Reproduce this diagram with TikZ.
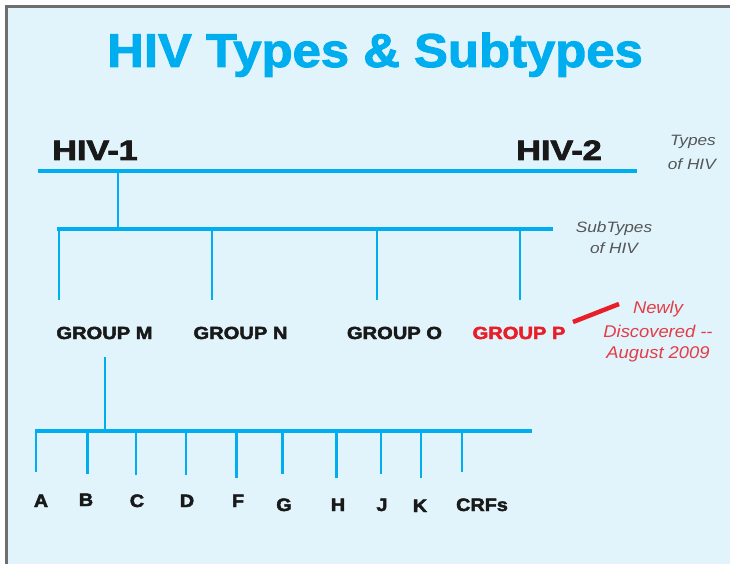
\documentclass[tikz,border=0pt]{standalone}
\usepackage{fontspec}
\usepackage{graphicx}
\setmainfont{Liberation Sans}
\newfontfamily\heavy{Liberation Sans}[FakeBold=2.5]
\newfontfamily\titlefont{Liberation Sans}[FakeBold=2]
\definecolor{hivblue}{RGB}{0,174,239}
\definecolor{bgblue}{RGB}{225,244,252}
\definecolor{framegray}{RGB}{110,110,110}
\definecolor{hivred}{RGB}{232,30,40}
\definecolor{notered}{RGB}{228,60,70}
\definecolor{notegray}{RGB}{85,85,85}
\definecolor{labelblack}{RGB}{25,25,25}
\newcommand{\hstretch}[2]{\scalebox{#1}[1]{#2}}
\begin{document}
\begin{tikzpicture}[x=1pt,y=-1pt,
  bar/.style={draw=hivblue,line width=4.7pt},
  midbar/.style={draw=hivblue,line width=4pt},
  drop/.style={draw=hivblue,line width=2.6pt},
  typelbl/.style={anchor=base,inner sep=0pt,text=labelblack,font=\heavy\bfseries\fontsize{28}{28}\selectfont},
  grplbl/.style={anchor=base,inner sep=0pt,text=labelblack,font=\heavy\bfseries\fontsize{17.5}{17.5}\selectfont},
  letlbl/.style={anchor=base,inner sep=0pt,text=labelblack,font=\heavy\bfseries\fontsize{18}{18}\selectfont},
  note/.style={anchor=base,inner sep=0pt,font=\itshape\fontsize{15}{15}\selectfont,text=notegray},
  rednote/.style={anchor=base,inner sep=0pt,font=\itshape\fontsize{17}{17}\selectfont,text=notered}]
\useasboundingbox (0,0) rectangle (730,564);
\fill[white] (0,0) rectangle (730,564);
\fill[framegray] (5,5) rectangle (730,564);
\fill[bgblue] (8,8) rectangle (730,564);

% title
\node[anchor=base,inner sep=0pt,text=hivblue,font=\titlefont\bfseries\fontsize{47.5}{47.5}\selectfont] (title) at (375,67) {\hstretch{1.07}{HIV Types \& Subtypes}};

% types
\node[typelbl] (hiv1) at (95,160) {\hstretch{1.22}{HIV-1}};
\node[typelbl] (hiv2) at (559,160) {\hstretch{1.22}{HIV-2}};
\node[note,anchor=base east] (types1) at (716,146) {\hstretch{1.15}{Types}};
\node[note,anchor=base east] (types2) at (716,169) {\hstretch{1.15}{of HIV}};

\coordinate (t1) at (38,171);
\coordinate (t2) at (637,171);
\draw[bar] (t1) -- (t2);
\coordinate (t3) at (118,171);
\coordinate (s0) at (118,229);
\draw[drop] (t3) -- (s0);

% subtypes bar
\coordinate (s1) at (57,229);
\coordinate (s2) at (553,229);
\draw[midbar] (s1) -- (s2);
\node[note] (sub1) at (614,232) {\hstretch{1.15}{SubTypes}};
\node[note] (sub2) at (614,253) {\hstretch{1.15}{of HIV}};

\foreach \x [count=\i] in {59,212,377,520}{
  \coordinate (g\i a) at (\x,229);
  \coordinate (g\i b) at (\x,300);
  \draw[drop] (g\i a) -- (g\i b);
}

% groups
\node[grplbl] (gM) at (104.5,339) {\hstretch{1.15}{GROUP M}};
\node[grplbl] (gN) at (240.5,339) {\hstretch{1.15}{GROUP N}};
\node[grplbl] (gO) at (394.5,339) {\hstretch{1.15}{GROUP O}};
\node[grplbl,text=hivred] (gP) at (519,339) {\hstretch{1.15}{GROUP P}};

% newly discovered note
\coordinate (r1) at (573,322);
\coordinate (r2) at (619,304);
\draw[hivred,line width=4.5pt] (r1) -- (r2);
\node[rednote] (new1) at (658,313) {\hstretch{1.08}{Newly}};
\node[rednote] (new2) at (658,337) {\hstretch{1.08}{Discovered {-}{-}}};
\node[rednote] (new3) at (658,358) {\hstretch{1.08}{August 2009}};

% group M subtypes
\coordinate (m1) at (105,357);
\coordinate (m2) at (105,431);
\draw[drop] (m1) -- (m2);
\coordinate (b1) at (35,431);
\coordinate (b2) at (532,431);
\draw[bar] (b1) -- (b2);

\foreach \x/\y/\lx/\ly/\t [count=\i] in {
  36/472/41/507/A, 87.5/474/86/506/B, 136/475/137/507/C, 186/475/187/507/D,
  236.5/478/238/507/F, 282.6/474/284/511/G, 336.6/478/338/511/H,
  380.8/474/382/511/J, 421/478/420/512/K, 462/472/482/511/CRFs}{
  \coordinate (st\i a) at (\x,431);
  \coordinate (st\i b) at (\x,\y);
  \draw[drop] (st\i a) -- (st\i b);
  \node[letlbl] (lab\i) at (\lx,\ly) {\hstretch{1.1}{\t}};
}
\end{tikzpicture}
\end{document}
